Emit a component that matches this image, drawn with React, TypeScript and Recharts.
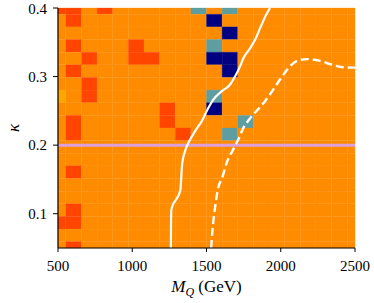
import React from 'react';
import { ComposedChart, XAxis, YAxis, Line, ReferenceArea, ReferenceLine } from 'recharts';

// grid centres (20 x 20 map)
const X_CENTERS = [500, 605.26, 710.53, 815.79, 921.05, 1026.32, 1131.58, 1236.84, 1342.11, 1447.37,
  1552.63, 1657.89, 1763.16, 1868.42, 1973.68, 2078.95, 2184.21, 2289.47, 2394.74, 2500];
const Y_CENTERS = [0.05, 0.0684, 0.0868, 0.1053, 0.1237, 0.1421, 0.1605, 0.1789, 0.1974, 0.2158,
  0.2342, 0.2526, 0.2711, 0.2895, 0.3079, 0.3263, 0.3447, 0.3632, 0.3816, 0.4];

// cell classes, top row (kappa = 0.4) first
const CELL_ROWS_TOP_DOWN = [
  'rr.r.....t.t........',
  '.r........n.........',
  '...........n........',
  '.r...r....t.........',
  '..r..rr...nn........',
  '.r.........n........',
  '..r.................',
  'y.r.......t.........',
  '.......r..n.........',
  '.r.....r....t.......',
  '.r......r..t........',
  '....................',
  '....................',
  '.r..................',
  '....................',
  '....................',
  '.r..................',
  'rr..................',
  '....................',
  '.r..................',
];

const CELL_COLORS: Record<string, string> = {
  '.': '#ff8c00',
  r: '#ff4500',
  y: '#ffa500',
  t: '#5f9ea0',
  n: '#000080',
};

// contours
const SOLID_X = [1260, 1261, 1263, 1272, 1290, 1312, 1325, 1330, 1336, 1356, 1379, 1424, 1469, 1513, 1547, 1603, 1659, 1693, 1726, 1749, 1794, 1827, 1861, 1901, 1928];
const SOLID_Y = [0.05, 0.08, 0.1048, 0.1120, 0.1190, 0.1270, 0.1360, 0.1536, 0.1725, 0.1917, 0.2039, 0.2207, 0.2352, 0.2546, 0.2667, 0.2787, 0.2884, 0.3004, 0.3149, 0.3271, 0.3416, 0.3536, 0.3706, 0.3899, 0.4];
const DASHED_X = [1531, 1540, 1558, 1580, 1603, 1637, 1681, 1715, 1750, 1790, 1890, 1995, 2018, 2074, 2119, 2180, 2265, 2350, 2421, 2500];
const DASHED_Y = [0.05, 0.0758, 0.1097, 0.1387, 0.1507, 0.1749, 0.1942, 0.2087, 0.2260, 0.2380, 0.2630, 0.2957, 0.3029, 0.3174, 0.3236, 0.3255, 0.3228, 0.3170, 0.3135, 0.3130];

const X_TICKS = [500, 1000, 1500, 2000, 2500];
const Y_TICKS = [0.1, 0.2, 0.3, 0.4];
const KAPPA_LINE = 0.2;

const solidData = SOLID_X.map((x, i) => ({ x, y: SOLID_Y[i] }));
const dashedData = DASHED_X.map((x, i) => ({ x, y: DASHED_Y[i] }));

const X_MIN = X_CENTERS[0];
const X_MAX = X_CENTERS[X_CENTERS.length - 1];
const Y_MIN = Y_CENTERS[0];
const Y_MAX = Y_CENTERS[Y_CENTERS.length - 1];

function cellEdges(c: number[], i: number): [number, number] {
  const lo = i === 0 ? c[0] : (c[i - 1] + c[i]) / 2;
  const hi = i === c.length - 1 ? c[c.length - 1] : (c[i] + c[i + 1]) / 2;
  return [lo, hi];
}

const cells: { x1: number; x2: number; y1: number; y2: number; fill: string; key: string }[] = [];
CELL_ROWS_TOP_DOWN.forEach((row, r) => {
  const yi = Y_CENTERS.length - 1 - r;
  const [y1, y2] = cellEdges(Y_CENTERS, yi);
  row.split('').forEach((code, xi) => {
    const [x1, x2] = cellEdges(X_CENTERS, xi);
    cells.push({ x1, x2, y1, y2, fill: CELL_COLORS[code], key: `${xi}-${yi}` });
  });
});

const FONT = '"Liberation Serif", "DejaVu Serif", serif';

const XTick = (props: any) => {
  const { x, y, payload } = props;
  return (
    <text x={x} y={y} dy="0.71em" textAnchor="middle" fontFamily={FONT} fontSize={15} fill="#000">
      {String(payload.value)}
    </text>
  );
};

const YTick = (props: any) => {
  const { x, y, payload } = props;
  return (
    <text x={x} y={y} dy="0.355em" textAnchor="end" fontFamily={FONT} fontSize={15} fill="#000">
      {String(payload.value)}
    </text>
  );
};

const XLabel = (props: any) => {
  const vb = props.viewBox || { x: 58, y: 248, width: 297, height: 55 };
  const cx = vb.x + vb.width / 2;
  return (
    <text x={cx} y={vb.y + 44} textAnchor="middle" fontFamily={FONT} fontSize={17} fill="#000">
      <tspan fontStyle="italic">M</tspan>
      <tspan fontStyle="italic" fontSize={12} dy={4}>Q</tspan>
      <tspan dy={-4}>{'\u00a0(GeV)'}</tspan>
    </text>
  );
};

const YLabel = (props: any) => {
  const vb = props.viewBox || { x: 0, y: 8, width: 58, height: 240 };
  const cx = vb.x + 13;
  const cy = vb.y + vb.height / 2;
  return (
    <text x={cx} y={cy} textAnchor="middle" dominantBaseline="central" fontFamily={FONT}
      fontSize={17} fontStyle="italic" fill="#000" transform={`rotate(-90, ${cx}, ${cy})`}>
      κ
    </text>
  );
};

export default function App() {
  return (
    <div style={{ position: 'absolute', left: 0, top: 0, width: 374, height: 303, background: '#fff', fontFamily: FONT }}>
      <ComposedChart width={374} height={303} margin={{ top: 8, right: 19, left: 0, bottom: 0 }}
        style={{ fontFamily: FONT }}>
        <XAxis
          xAxisId={0}
          type="number"
          dataKey="x"
          domain={[X_MIN, X_MAX]}
          ticks={X_TICKS}
          allowDataOverflow
          height={55}
          tickSize={4}
          tickMargin={8}
          tick={XTick}
          axisLine={{ stroke: '#000', strokeWidth: 1.2 }}
          tickLine={{ stroke: '#000', strokeWidth: 1 }}
          label={{ content: XLabel }}
        />
        <XAxis
          xAxisId="top"
          orientation="top"
          type="number"
          domain={[X_MIN, X_MAX]}
          allowDataOverflow
          height={0}
          tick={false}
          tickLine={false}
          axisLine={{ stroke: '#000', strokeWidth: 1.2 }}
        />
        <YAxis
          yAxisId={0}
          type="number"
          dataKey="y"
          domain={[Y_MIN, Y_MAX]}
          ticks={Y_TICKS}
          allowDataOverflow
          width={58}
          tickSize={5}
          tickMargin={6}
          tick={YTick}
          axisLine={{ stroke: '#000', strokeWidth: 1.2 }}
          tickLine={{ stroke: '#000', strokeWidth: 1 }}
          label={{ content: YLabel }}
        />
        <YAxis
          yAxisId="right"
          orientation="right"
          type="number"
          domain={[Y_MIN, Y_MAX]}
          allowDataOverflow
          width={0}
          tick={false}
          tickLine={false}
          axisLine={{ stroke: '#000', strokeWidth: 1.2 }}
        />
        {cells.map((c) => (
          <ReferenceArea
            key={c.key}
            xAxisId={0}
            yAxisId={0}
            x1={c.x1}
            x2={c.x2}
            y1={c.y1}
            y2={c.y2}
            fill={c.fill}
            fillOpacity={1}
            stroke={c.fill}
            strokeWidth={0.3}
            ifOverflow="visible"
          />
        ))}
        <ReferenceLine xAxisId={0} yAxisId={0} y={KAPPA_LINE} stroke="#dda0dd" strokeWidth={3} ifOverflow="visible" />
        <Line
          xAxisId={0}
          yAxisId={0}
          data={solidData}
          dataKey="y"
          type="monotone"
          stroke="#ffffff"
          strokeWidth={2.2}
          dot={false}
          activeDot={false}
          isAnimationActive={false}
        />
        <Line
          xAxisId={0}
          yAxisId={0}
          data={dashedData}
          dataKey="y"
          type="monotone"
          stroke="#ffffff"
          strokeWidth={2.4}
          strokeDasharray="8 4"
          dot={false}
          activeDot={false}
          isAnimationActive={false}
        />
      </ComposedChart>
    </div>
  );
}
